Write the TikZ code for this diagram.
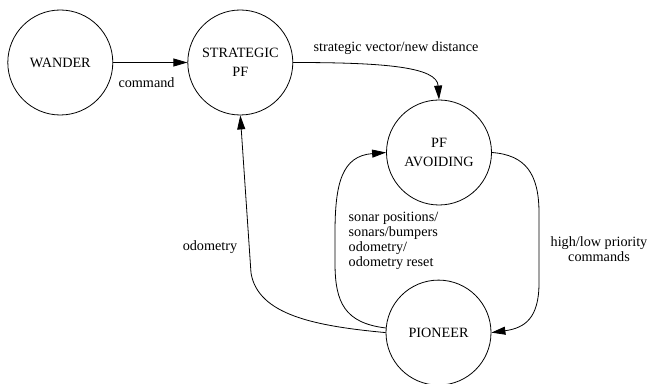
\documentclass[tikz,border=0pt]{standalone}
\usepackage{fontspec}
\setmainfont{Liberation Serif}
\usetikzlibrary{arrows.meta}

\begin{document}
\begin{tikzpicture}[x=1pt,y=1pt,>={Triangle[length=14pt,width=8pt]},every text node part/.style={align=center}]
	\tikzstyle{every node}=[font=\fontsize{14.2}{15}\selectfont,inner sep=0pt];
	\tikzstyle{state}=[draw,circle,line width=0.8pt,minimum size=105pt,font=\fontsize{14.2}{19}\selectfont];
	\tikzstyle{link}=[->,line width=0.8pt];
	\useasboundingbox (0,0) rectangle (650,383);
	
	\node[state] (wander) at (60.3,320.5) {WANDER};
	\node[state] (strategic) at (240.3,320.5) {STRATEGIC\\PF};
	\node[state] (avoiding) at (439,230.5) {PF\\AVOIDING};
	\node[state] (pioneer) at (438.5,50.4) {PIONEER};
	
	\draw[link] (wander) -- (strategic);
	\draw[link] (strategic.east) .. controls (385,320.5) and (437,316) .. (avoiding.north);
	\draw[link] (pioneer.west) .. controls (315,57) and (258,68) .. (251,110) -- (strategic.south);
	\draw[link] (pioneer.175) .. controls (345,60) and (335,80) .. (335,120) -- (335,150) .. controls (335,200) and (342,227) .. (avoiding.west);
	\draw[link] (avoiding.east) .. controls (525,228) and (539,210) .. (539,170) -- (539,100) .. controls (539,65) and (525,55) .. (pioneer.east);
	
	\node (lcommand) at (146.5,300) {command};
	\node (lvector) at (396,335) {strategic vector/new distance};
	\node (lodometry) at (210,136) {odometry};
	\node[anchor=west,every text node part/.style={align=left}] (lsonar) at (348.5,142.5) {sonar positions/\\sonars/bumpers\\odometry/\\odometry reset};
	\node (lpriority) at (599,134) {high/low priority\\commands};
\end{tikzpicture}
\end{document}
